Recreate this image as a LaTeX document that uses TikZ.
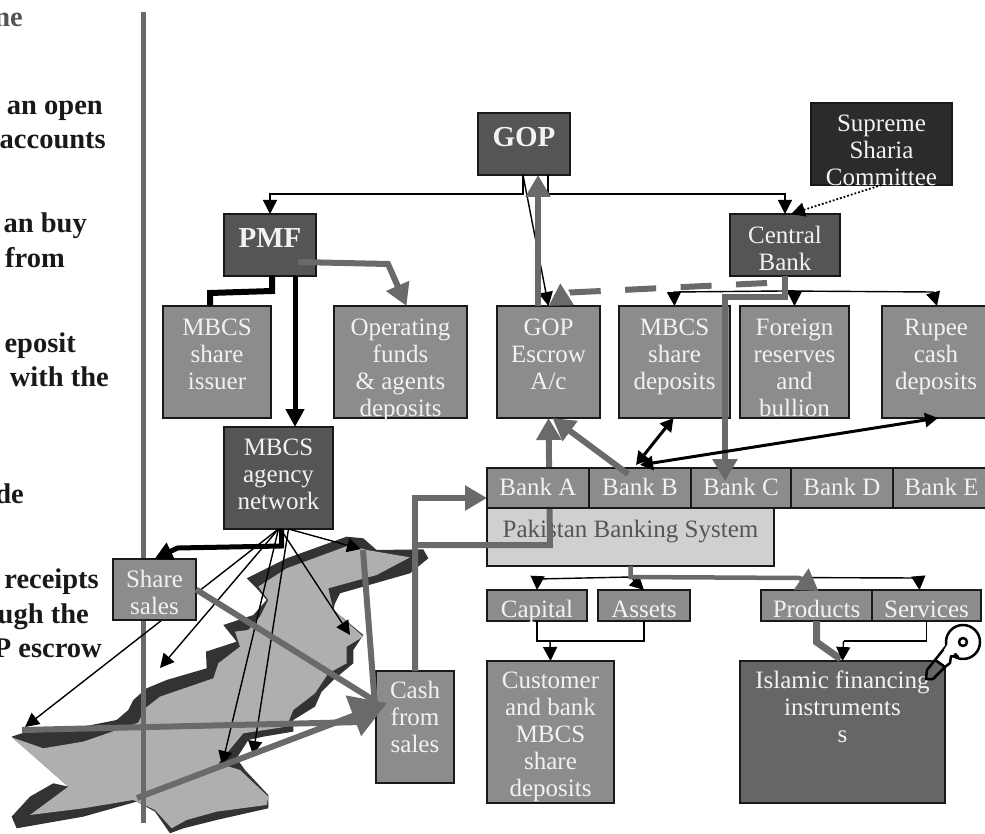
\documentclass[tikz,border=0pt]{standalone}
\usepackage{fontspec}
\setmainfont{Liberation Serif}
\usetikzlibrary{arrows.meta,calc}
\definecolor{midbox}{HTML}{8C8C8C}
\definecolor{darkbox}{HTML}{555555}
\definecolor{blackbox}{HTML}{2B2B2B}
\definecolor{islbox}{HTML}{666666}
\definecolor{lightbox}{HTML}{D0D0D0}
\definecolor{flow}{HTML}{6A6A6A}
\definecolor{mapdark}{HTML}{333333}
\definecolor{mapfill}{HTML}{AFAFAF}
\tikzset{
  base/.style={draw=black!90,line width=1.5pt,inner sep=0pt,outer sep=0pt},
  mid/.style={base,fill=midbox},
  dk/.style={base,fill=darkbox},
  blk/.style={base,fill=blackbox},
  isl/.style={base,fill=islbox},
  lgt/.style={base,fill=lightbox},
  lab/.style={inner sep=0pt,outer sep=0pt,anchor=north,align=center,text=white!95!black,font=\fontsize{25}{27}\selectfont},
  blab/.style={lab,font=\fontsize{29}{32}\selectfont\bfseries},
  dlab/.style={lab,text=darkbox},
  side/.style={inner sep=0pt,anchor=base east,text=black!90,font=\fontsize{28.5}{30}\selectfont\bfseries},
  thin/.style={black,line width=1.4pt,-{Triangle[length=14pt,width=14pt]}},
  plain/.style={black,line width=1.4pt},
  thick2/.style={black,line width=3pt,{Triangle[length=13pt,width=14pt]}-{Triangle[length=13pt,width=14pt]}},
  heavy/.style={black,line width=5pt,-{Triangle[length=18pt,width=18pt]}},
  gflow/.style={flow,line width=6pt,-{Triangle[length=22pt,width=24pt]}},
  gplain/.style={flow,line width=6pt},
  gbig/.style={flow,line width=6pt,-{Triangle[length=36pt,width=42pt]}},
}
\newcommand{\bxn}[9][lab]{%
  \node[#7,anchor=north west,minimum width={(#5-#3)*1pt},minimum height={(#6-#4)*1pt}] (#2) at (#3,#4) {};
  \node[#1] (#2-t) at ({(#3+#5)/2},{#4+#8-18}) {\rule{0pt}{18pt}#9};
}
\begin{document}
\begin{tikzpicture}[x=1pt,y=-1pt]
\useasboundingbox (0,0) rectangle (985,834);
% side text
\node[side,text=darkbox] (s1) at (23,27) {ne};
\node[side] (s2) at (103,115) {an open};
\node[side] (s3) at (106,149) {accounts};
\node[side] (s4) at (87,233) {an buy};
\node[side] (s5) at (65,268) {from};
\node[side] (s6) at (76,352) {eposit};
\node[side] (s7) at (109,386) {with the};
\node[side] (s8) at (24,503) {de};
\node[side] (s9) at (99,588) {receipts};
\node[side] (s10) at (89,623) {ugh the};
\node[side] (s11) at (102,657) {P escrow};
% map
\begin{scope}[x=0.3333pt,y=-0.3333pt,yshift=-500pt]
\fill[mapdark] (35,710)--(65,700)--(200,690)--(350,660)--(385,630)--(400,600)--(440,565)--(500,540)--(620,505)--(618,455)--(710,425)--(670,375)--(760,345)--(800,300)--(770,265)--(740,235)--(860,175)--(1040,110)--(1090,115)--(1130,150)--(1270,148)--(1285,175)--(1230,220)--(1020,280)--(1005,310)--(1000,330)--(1090,405)--(1060,450)--(1060,490)--(1000,540)--(965,575)--(945,620)--(880,660)--(880,695)--(790,710)--(745,720)--(710,775)--(735,810)--(805,885)--(805,925)--(650,960)--(550,985)--(510,1000)--(465,935)--(410,905)--(250,950)--(50,985)--(35,950)--(90,890)--(160,850)--(205,860)--(160,820)--cycle;
\fill[mapfill] (35,712)--(130,745)--(250,725)--(415,668)--(435,625)--(480,590)--(640,535)--(655,490)--(720,440)--(705,395)--(745,390)--(780,350)--(805,300)--(775,260)--(860,205)--(1050,135)--(1100,150)--(1230,172)--(1130,225)--(985,265)--(1000,330)--(1090,410)--(1040,440)--(1040,490)--(985,520)--(945,580)--(880,630)--(860,680)--(730,700)--(655,790)--(720,810)--(805,890)--(800,915)--(650,935)--(560,960)--(515,985)--(465,930)--(400,900)--(250,925)--(90,945)--(205,860)--(160,820)--cycle;
\end{scope}
% vertical rule
\coordinate (vt) at (143.5,12);
\coordinate (vb) at (143.5,823);
\draw[flow,line width=5.5pt] (vt)--(vb);
% free ends
\coordinate (e1) at (25,727);
\coordinate (e2) at (160,668);
\coordinate (e3) at (222,765);
\coordinate (e4) at (253,755);
\coordinate (e5) at (350,635);
\coordinate (e6) at (361,549);
\coordinate (m1) at (22,730);
\coordinate (m2) at (137,798);
\coordinate (m3) at (363,550);
\coordinate (conv) at (387,703);
% boxes
\bxn{agency}{224}{427}{333}{529}{dk}{28}{MBCS\\agency\\network}
\draw[thin] (agency.south) -- (e1);
\draw[thin] (agency.south) -- (e2);
\draw[thin] (agency.south) -- (e3);
\draw[thin] ([xshift=10pt]agency.south) -- (e4);
\draw[thin] ([xshift=2pt]agency.south) -- (e5);
\draw[thin] ([xshift=10pt]agency.south) -- (e6);
\bxn{share}{113}{559}{196}{620}{mid}{28}{Share\\sales}
\draw[heavy,line join=miter] ([xshift=3pt]agency.south) -- ++(0,17) -- ++(-104,2) -- (share.north);
\bxn{cash}{376}{671}{454}{783}{mid}{27}{Cash\\from\\sales}
\draw[gplain] (share.east) -- ($(conv)+(-12,-2)$);
\draw[gplain] (m1) -- ($(conv)+(-25,19)$);
\draw[gplain] (m3) -- ($(conv)+(-12,3)$);
\draw[gbig] (m2) -- (conv);
\bxn{gop}{478}{113}{570}{175}{dk}{34}{}
\node[blab] (gop-l) at ($(gop.north)+(0,10)$) {\rule{0pt}{24pt}GOP};
\bxn{pmf}{224}{214}{316}{276}{dk}{34}{}
\node[blab] (pmf-l) at ($(pmf.north)+(0,10)$) {\rule{0pt}{24pt}PMF};
\bxn{sup}{811}{103}{952}{185}{blk}{29}{Supreme\\Sharia\\Committee}
\bxn{cen}{730}{214}{840}{276}{dk}{30}{Central\\Bank}
\bxn{esc}{497}{306}{600}{418}{mid}{29}{GOP\\Escrow\\A/c}
\bxn{dep}{619}{306}{730}{418}{mid}{29}{MBCS\\share\\deposits}
\bxn{for}{740}{306}{849}{418}{mid}{29}{Foreign\\reserves\\and\\bullion}
\bxn{rup}{882}{306}{990}{418}{mid}{29}{Rupee\\cash\\deposits}
\bxn{iss}{163}{306}{271}{418}{mid}{29}{MBCS\\share\\issuer}
\bxn{ope}{334}{306}{467}{418}{mid}{29}{Operating\\funds\\\& agents\\deposits}
\bxn[dlab]{pak}{487}{508}{774}{566}{lgt}{29}{Pakistan Banking System}
\draw[gflow,line join=miter] (cash.north) |- ($(pak.west)+(0,8)$) -- ($(pak.west)+(63,8)$) -- (esc.south);
\draw[gflow,line join=miter] ($(cash.north)+(0,-100)$) |- ([yshift=10pt]pak.north west);
\bxn{ba}{487}{468}{589}{508}{mid}{27}{Bank A}
\bxn{bb}{589}{468}{691}{508}{mid}{27}{Bank B}
\bxn{bc}{691}{468}{791}{508}{mid}{27}{Bank C}
\bxn{bd}{791}{468}{893}{508}{mid}{27}{Bank D}
\bxn{be}{893}{468}{990}{508}{mid}{27}{Bank E}
\bxn{cap}{487}{590}{587}{621}{mid}{27}{Capital}
\bxn{ass}{598}{590}{690}{621}{mid}{27}{Assets}
\bxn{pro}{761}{590}{872}{621}{mid}{27}{Products}
\bxn{ser}{872}{590}{981}{621}{mid}{27}{Services}
\bxn{cus}{487}{661}{614}{803}{mid}{27}{Customer\\and bank\\MBCS\\share\\deposits}
\bxn{isl}{740}{661}{945}{803}{isl}{27}{Islamic financing\\instruments\\s}
% GOP tree
\draw[thin] ([xshift=24pt]gop.south) -- ++(0,19) -| (cen.north);
\draw[thin] ([xshift=-1pt]gop.south) -- ++(0,19) -| (pmf.north);
\draw[thin] ([xshift=-1pt]gop.south) -- (esc.north);
\draw[gflow] ([xshift=-10.5pt]esc.north) -- ([xshift=14pt]gop.south);
% PMF
\draw[heavy] ([xshift=25pt]pmf.south) -- ([xshift=16.5pt]agency.north);
\draw[black,line width=6pt,line join=miter] ([xshift=2pt]pmf.south) -- ++(0,15) -- ++(-62,2) -- ([xshift=-7pt]iss.north);
\draw[gflow,line join=miter] ([xshift=28pt,yshift=14pt]pmf.south) -- ++(90,2) -- ([xshift=6pt]ope.north);
% central
\draw[thin] ([xshift=-2pt]cen.south) -- ++(0,15) -- ++(-109,1) -- (dep.north);
\draw[thin] ([xshift=-2pt]cen.south) -- ++(0,15) -| (for.north);
\draw[thin] ([xshift=-2pt]cen.south) -- ++(0,15) -- ++(150,1) -- ([xshift=1pt]rup.north);
\draw[black,line width=1.8pt,dotted,-{Triangle[length=14pt,width=14pt]}] (sup.south) -- ([xshift=6pt]cen.north);
\draw[gflow,dash pattern=on 31pt off 24.5pt] ($(cen.south)+(-18,7)$) -- (570,292.5) -- (esc.north);
\draw[gflow,line join=miter] (cen.south) -- ++(0,21) -- ++(-60,0) -- ([xshift=-16pt,yshift=-13pt]bc.north);
% banks
\draw[gflow] ($(bb.north)+(-12,6)$) -- ([xshift=4pt]esc.south);
\draw[thick2] ([xshift=-4pt,yshift=3pt]bb.north) -- ([xshift=-1pt]dep.south);
\draw[thick2] ([xshift=0pt,yshift=3pt]bb.north) -- ([xshift=2pt]rup.south);
% Pakistan tree
\coordinate (pj) at ($(pak.south)+(0,11)$);
\draw[thin] (pak.south) -- (pj) -- ++(-93,2) -- (cap.north);
\draw[thin] (pj) -- (ass.north);
\draw[thin] (pj) -- ++(288,1) -- ([xshift=-7pt]ser.north);
\draw[flow,line width=4.5pt,line join=miter,-{Triangle[length=21pt,width=25pt]}] (pak.south) -- (pj) -- ++(169,1) -- ([xshift=2pt,yshift=-1pt]pro.north);
\draw[plain] (cap.south) -- ++(0,20) -| (ass.south);
\draw[thin] ([xshift=13pt]cap.south) ++(0,20) -- (cus.north);
\draw[plain,line join=miter] (ser.south) -- ++(0,20) -- ++(-83,0);
\draw[flow,line width=7pt,line join=miter] (pro.south) -- ++(0,21) -- ++(24,17);
\draw[thin] ($(ser.south)+(-83,20)$) -- (isl.north);
% key
\begin{scope}[line width=2.5pt,line join=round]
\draw[black,fill=white] (963,642) circle (17pt);
\draw[black,fill=white] (947,645) -- (935,660) -- (945,667) -- (950,663) -- (951,656) -- (958,657) -- cycle;
\fill[white] (950,640) -- (958,652) -- (950,655) -- (944,650) -- cycle;
\draw[black,fill=islbox] (935,660) -- (927,670) -- (926,679) -- (933,679) -- (945,667) -- cycle;
\draw[black,fill=white] (963,642) circle (4pt);
\end{scope}
\end{tikzpicture}
\end{document}
